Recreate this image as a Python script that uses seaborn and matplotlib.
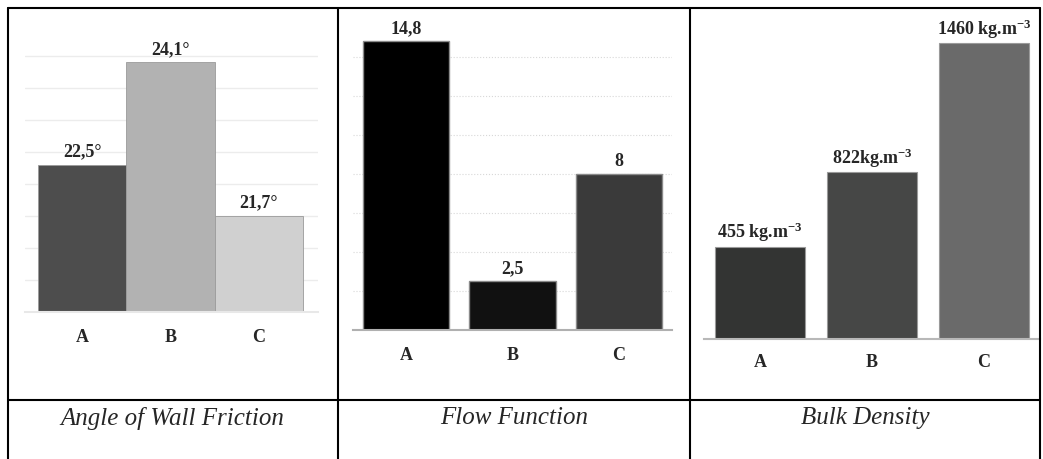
import matplotlib
matplotlib.use("Agg")
from matplotlib import pyplot as plt
from matplotlib.lines import Line2D
import seaborn as sns
import numpy as np

sns.set_style("white")
plt.rcParams['font.family'] = ['Liberation Serif', 'DejaVu Serif']
plt.rcParams['mathtext.default'] = 'regular'

# data
cats = ['A', 'B', 'C']
wall_friction = [22.5, 24.1, 21.7]
wall_labels = ['22,5°', '24,1°', '21,7°']
flow_function = [14.8, 2.5, 8]
flow_labels = ['14,8', '2,5', '8']
bulk_density = [455, 822, 1460]
bulk_labels = ['455 kg.m$^{-3}$', '822kg.m$^{-3}$', '1460 kg.m$^{-3}$']
titles = ['Angle of Wall Friction', 'Flow Function', 'Bulk Density']

W, H = 1043, 459
fig = plt.figure(figsize=(W / 100, H / 100), dpi=100)


def px_axes(left, right, top, bottom):
    return fig.add_axes([left / W, (H - bottom) / H, (right - left) / W, (bottom - top) / H])


def px_line(x0, y0, x1, y1):
    fig.add_artist(Line2D([x0 / W, x1 / W], [(H - y0) / H, (H - y1) / H],
                          color='black', lw=1.5, transform=fig.transFigure))


def style(ax, pad, base_color):
    for s in ['top', 'left', 'right']:
        ax.spines[s].set_visible(False)
    ax.spines['bottom'].set_color(base_color)
    ax.spines['bottom'].set_linewidth(1.5)
    ax.set_xlabel('')
    ax.set_ylabel('')
    ax.tick_params(axis='x', length=0, pad=pad, labelsize=13)
    ax.tick_params(axis='y', length=0, labelleft=False)
    for t in ax.get_xticklabels():
        t.set_fontweight('bold')


def labels(ax, vals, texts):
    for i, (v, t) in enumerate(zip(vals, texts)):
        ax.annotate(t, (i, v), xytext=(0, 6), textcoords='offset points',
                    ha='center', va='baseline', fontsize=13, fontweight='bold',
                    annotation_clip=False)


# panel 1
ax1 = px_axes(25, 318, 20, 312)
sns.barplot(x=cats, y=wall_friction, hue=cats, palette=['#4d4d4d', '#b2b2b2', '#d0d0d0'],
            width=1.0, legend=False, edgecolor='#9a9a9a', linewidth=0.6, ax=ax1)
ax1.set_ylim(20.2, 24.76)
ax1.set_xlim(-0.647, 2.67)
ax1.set_yticks(np.arange(20.7, 24.3, 0.5))
ax1.yaxis.grid(True, color='#ececec', lw=1)
ax1.set_axisbelow(True)
style(ax1, 12, '#e8e8e8')
labels(ax1, wall_friction, wall_labels)

# panel 2
ax2 = px_axes(353, 672, 20, 330)
sns.barplot(x=cats, y=flow_function, hue=cats, palette=['#000000', '#111111', '#3a3a3a'],
            width=0.81, legend=False, edgecolor='#8a8a8a', linewidth=1, ax=ax2)
ax2.set_ylim(0, 15.9)
ax2.set_xlim(-0.5, 2.5)
ax2.set_yticks(np.arange(2, 15, 2))
ax2.yaxis.grid(True, color='#d8d8d8', lw=0.8, ls=':')
ax2.set_axisbelow(True)
style(ax2, 12, '#b0b0b0')
labels(ax2, flow_function, flow_labels)

# panel 3
ax3 = px_axes(704, 1040, 20, 339)
sns.barplot(x=cats, y=bulk_density, hue=cats, palette=['#333433', '#464746', '#6a6a6a'],
            width=0.8, legend=False, edgecolor='#9a9a9a', linewidth=0.8, ax=ax3)
ax3.set_ylim(0, 1573)
ax3.set_xlim(-0.5, 2.5)
style(ax3, 11, '#b8b8b8')
labels(ax3, bulk_density, bulk_labels)

# table borders
px_line(8, 8, 1040, 8)
px_line(8, 8, 8, H)
px_line(1040, 8, 1040, H)
px_line(338, 8, 338, H)
px_line(690, 8, 690, H)
px_line(8, 400, 1040, 400)

for xc, t in zip([172, 514, 865], titles):
    fig.text(xc / W, (H - 418) / H, t, ha='center', va='center',
             fontsize=18, fontstyle='italic')

fig.savefig('out.png', dpi=100)
